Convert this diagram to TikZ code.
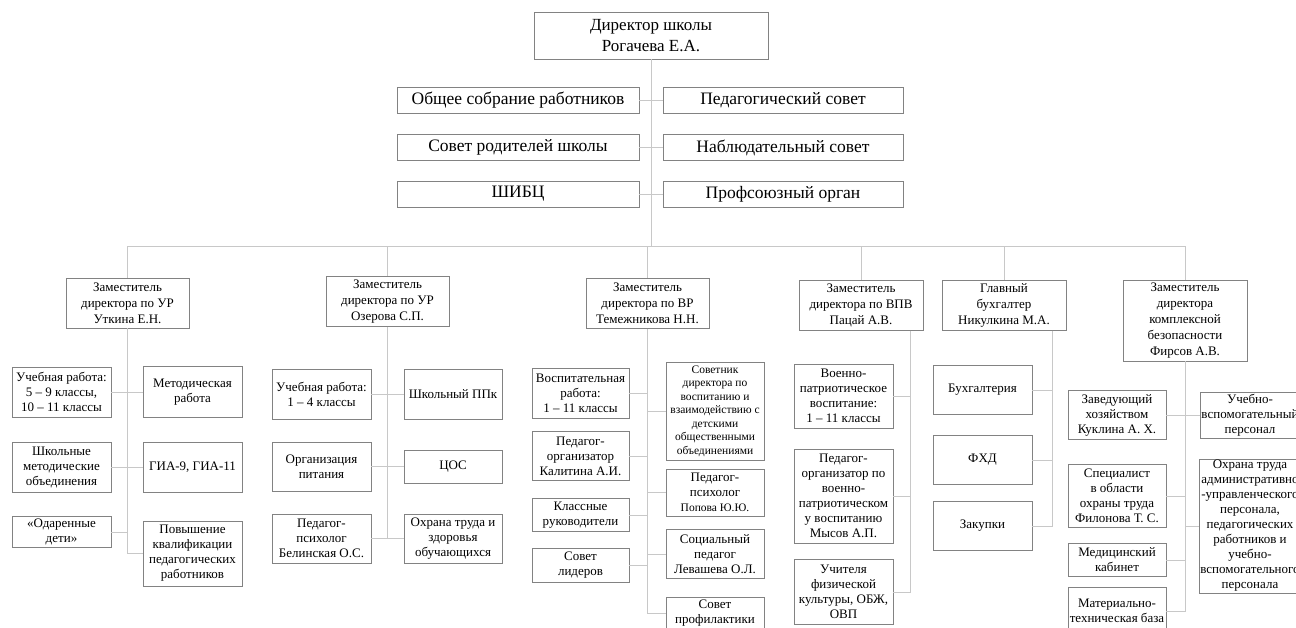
\documentclass[tikz,border=0pt]{standalone}
\usepackage{fontspec}
\setmainfont{Liberation Serif}
\usetikzlibrary{positioning, calc}

\definecolor{boxgray}{RGB}{130,130,130}
\definecolor{linkgray}{RGB}{200,200,200}

\begin{document}
\begin{tikzpicture}[
    x=1pt, y=-1pt,
    line width=0.8pt,
    box/.style={draw=boxgray, fill=white, align=center, inner sep=1pt, font=\fontsize{13}{15}\selectfont},
    head/.style={box, minimum width=124, minimum height=50, font=\fontsize{13}{16}\selectfont},
    council/.style={box, minimum height=26, font=\fontsize{17.5}{21}\selectfont},
    smallbox/.style={box, font=\fontsize{11.5}{13.5}\selectfont},
    link/.style={draw=linkgray}
]
    \useasboundingbox (0,0) rectangle (1296,627);
    \clip (0,0) rectangle (1296,627);

    % Director and councils
    \node[box, minimum width=234, minimum height=47, font=\fontsize{17}{21}\selectfont](director) at (651,35.5){Директор школы\\Рогачева Е.А.};

    \node[council, minimum width=242](general) at (518,100){Общее собрание работников};
    \node[council, minimum width=240](pedsovet) at (783,100){Педагогический совет};
    \node[council, minimum width=242](parents) at (518,147.5){Совет родителей школы};
    \node[council, minimum width=240](observers) at (783,147.5){Наблюдательный совет};
    \node[council, minimum width=242](shibc) at (518,194){ШИБЦ};
    \node[council, minimum width=240](union) at (783,194){Профсоюзный орган};

    \coordinate (bar) at (651,246);

    % Deputies
    \node[head, minimum width=123](c1head) at (127.5,303){Заместитель\\директора по УР\\Уткина Е.Н.};
    \node[head, minimum width=123](c2head) at (387.5,301.5){Заместитель\\директора по УР\\Озерова С.П.};
    \node[head, minimum width=123](c3head) at (647.5,303.5){Заместитель\\директора по ВР\\Темежникова Н.Н.};
    \node[head](c4head) at (861,305.5){Заместитель\\директора по ВПВ\\Пацай А.В.};
    \node[head](c5head) at (1004,305.5){Главный\\бухгалтер\\Никулкина М.А.};
    \node[head, minimum height=81](c6head) at (1185,320.5){Заместитель\\директора\\комплексной\\безопасности\\Фирсов А.В.};

    % Column 1
    \node[box, minimum width=99, minimum height=50](c1l1) at (61.5,392){Учебная работа:\\5 – 9 классы,\\10 – 11 классы};
    \node[box, minimum width=99, minimum height=51](c1r1) at (192.5,392){Методическая\\работа};
    \node[box, minimum width=99, minimum height=50](c1l2) at (61.5,467){Школьные\\методические\\объединения};
    \node[box, minimum width=99, minimum height=50](c1r2) at (192.5,467){ГИА-9, ГИА-11};
    \node[box, minimum width=99, minimum height=31](c1l3) at (61.5,532){«Одаренные\\дети»};
    \node[box, minimum width=99, minimum height=65](c1r3) at (192.5,553.5){Повышение\\квалификации\\педагогических\\работников};

    % Column 2
    \node[box, minimum width=99, minimum height=50](c2l1) at (321.5,394){Учебная работа:\\1 – 4 классы};
    \node[box, minimum width=98, minimum height=50](c2r1) at (453,394){Школьный ППк};
    \node[box, minimum width=99, minimum height=49](c2l2) at (321.5,466.5){Организация\\питания};
    \node[box, minimum width=98, minimum height=33](c2r2) at (453,466.5){ЦОС};
    \node[box, minimum width=99, minimum height=49](c2l3) at (321.5,538.5){Педагог-\\психолог\\Белинская О.С.};
    \node[box, minimum width=98, minimum height=49](c2r3) at (453,538.5){Охрана труда и\\здоровья\\обучающихся};

    % Column 3
    \node[box, minimum width=97, minimum height=50](c3l1) at (580.5,393){Воспитательная\\работа:\\1 – 11 классы};
    \node[box, minimum width=97, minimum height=49](c3l2) at (580.5,456){Педагог-\\организатор\\Калитина А.И.};
    \node[box, minimum width=97, minimum height=33](c3l3) at (580.5,515){Классные\\руководители};
    \node[box, minimum width=97, minimum height=34](c3l4) at (580.5,565){Совет\\лидеров};
    \node[smallbox, minimum width=98, minimum height=98](c3r1) at (715,411){Советник\\директора по\\воспитанию и\\взаимодействию с\\детскими\\общественными\\объединениями};
    \node[box, minimum width=98, minimum height=47](c3r2) at (715,492.5){Педагог-\\психолог\\{\fontsize{11.5}{13.5}\selectfont Попова Ю.Ю.}};
    \node[box, minimum width=98, minimum height=49](c3r3) at (715,554){Социальный\\педагог\\Левашева О.Л.};
    \node[box, minimum width=98, minimum height=32](c3r4) at (715,613){Совет\\профилактики};

    % Column 4
    \node[box, minimum width=99, minimum height=64](c4l1) at (843.5,396){Военно-\\патриотическое\\воспитание:\\1 – 11 классы};
    \node[box, minimum width=99, minimum height=94](c4l2) at (843.5,496){Педагог-\\организатор по\\военно-\\патриотическом\\у воспитанию\\Мысов А.П.};
    \node[box, minimum width=99, minimum height=65](c4l3) at (843.5,592){Учителя\\физической\\культуры, ОБЖ,\\ОВП};
    \coordinate (c4trunk) at (910,330.5);

    % Column 5
    \node[box, minimum width=99, minimum height=49](c5s1) at (982.5,390){Бухгалтерия};
    \node[box, minimum width=99, minimum height=49](c5s2) at (982.5,460){ФХД};
    \node[box, minimum width=99, minimum height=49](c5s3) at (982.5,526){Закупки};
    \coordinate (c5trunk) at (1052,330.5);

    % Column 6
    \node[box, minimum width=98, minimum height=49](c6l1) at (1117,415){Заведующий\\хозяйством\\Куклина А. Х.};
    \node[box, minimum width=98, minimum height=63](c6l2) at (1117,496){Специалист\\в области\\охраны труда\\Филонова Т. С.};
    \node[box, minimum width=98, minimum height=33](c6l3) at (1117,560){Медицинский\\кабинет};
    \node[box, minimum width=98, minimum height=48](c6l4) at (1117,611){Материально-\\техническая база};
    \node[box, minimum width=95, minimum height=46](c6r1) at (1250,415){Учебно-\\вспомогательный\\персонал};
    \node[box, minimum width=95, minimum height=134](c6r2) at (1250,526){Охрана труда\\административно\\-управленческого\\персонала,\\педагогических\\работников и\\учебно-\\вспомогательного\\персонала};

    % Top connectors
    \draw[link](director) -- (bar);
    \draw[link](general.east) -- (pedsovet.west);
    \draw[link](parents.east) -- (observers.west);
    \draw[link](shibc.east) -- (union.west);
    \draw[link](c1head.north |- bar) -- (c6head.north |- bar);
    \foreach \col in {c1,c2,c3,c4,c5,c6}
        \draw[link](\col head.north |- bar) -- (\col head.north);

    % Column 1 links
    \draw[link](c1head) -- (c1head |- c1r3) -- (c1r3.west);
    \draw[link](c1l1.east) -- (c1r1.west);
    \draw[link](c1l2.east) -- (c1r2.west);
    \draw[link](c1l3.east) -- (c1l3 -| c1head);

    % Column 2 links
    \draw[link](c2head) -- (c2head |- c2l3);
    \draw[link](c2l1.east) -- (c2r1.west);
    \draw[link](c2l2.east) -- (c2r2.west);
    \draw[link](c2l3.east) -- (c2r3.west);

    % Column 3 links
    \draw[link](c3head) -- (c3head |- c3r4) -- (c3r4.west);
    \foreach \sub in {c3l1,c3l2,c3l3,c3l4}
        \draw[link](\sub.east) -- (\sub -| c3head);
    \foreach \sub in {c3r1,c3r2,c3r3}
        \draw[link](\sub.west) -- (\sub -| c3head);

    % Column 4 links
    \draw[link](c4trunk) -- (c4trunk |- c4l3) -- (c4l3.east);
    \draw[link](c4l1.east) -- (c4l1 -| c4trunk);
    \draw[link](c4l2.east) -- (c4l2 -| c4trunk);

    % Column 5 links
    \draw[link](c5trunk) -- (c5trunk |- c5s3) -- (c5s3.east);
    \draw[link](c5s1.east) -- (c5s1 -| c5trunk);
    \draw[link](c5s2.east) -- (c5s2 -| c5trunk);

    % Column 6 links
    \draw[link](c6head) -- (c6head |- c6l4) -- (c6l4.east);
    \draw[link](c6l1.east) -- (c6r1.west);
    \draw[link](c6l2.east) -- (c6l2 -| c6head);
    \draw[link](c6l3.east) -- (c6l3 -| c6head);
    \draw[link](c6r2.west) -- (c6r2 -| c6head);
\end{tikzpicture}
\end{document}
